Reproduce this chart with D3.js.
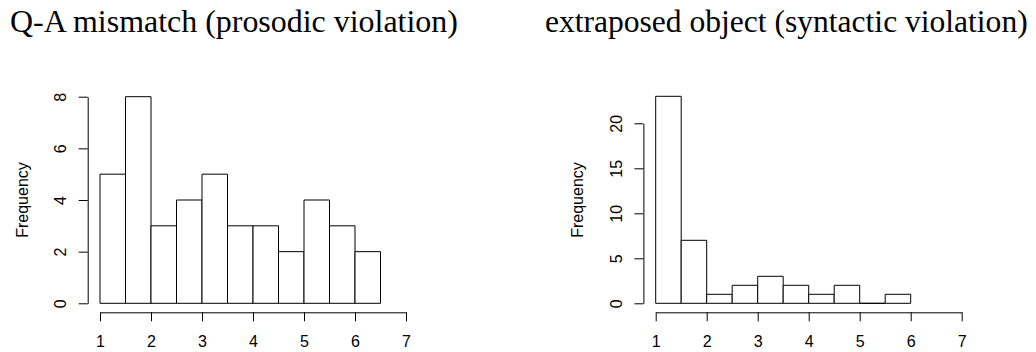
<!DOCTYPE html>
<html><head><meta charset="utf-8">
<script src="https://cdn.jsdelivr.net/npm/d3@7"></script>
<style>
body{margin:0;background:#fff;}
svg{display:block;}
</style></head>
<body>
<svg id="chart" width="1036" height="352"></svg>
<script>
// Data
const titles = ["Q-A mismatch (prosodic violation)", "extraposed object (syntactic violation)"];
const breaksLeft = [1, 1.5, 2, 2.5, 3, 3.5, 4, 4.5, 5, 5.5, 6, 6.5];
const countsLeft = [5, 8, 3, 4, 5, 3, 3, 2, 4, 3, 2];
const breaksRight = [1, 1.5, 2, 2.5, 3, 3.5, 4, 4.5, 5, 5.5, 6];
const countsRight = [23, 7, 1, 2, 3, 2, 1, 2, 0, 1];
const xTicks = [1, 2, 3, 4, 5, 6, 7];
const yTicksLeft = [0, 2, 4, 6, 8];
const yTicksRight = [0, 5, 10, 15, 20];
const yLabel = "Frequency";

const svg = d3.select("#chart");
const FS = 16;
const SANS = "Liberation Sans, Arial, Helvetica, sans-serif";

const panels = [
  {title: titles[0], breaks: breaksLeft, counts: countsLeft, yTicks: yTicksLeft, yMax: 8,
   x0: 100, x1: 406, yTop: 96.7, titleX: 10, titleW: 448},
  {title: titles[1], breaks: breaksRight, counts: countsRight, yTicks: yTicksRight, yMax: 20,
   x0: 655.7, x1: 961.7, yTop: 123.3, titleX: 545, titleW: 483}
];

const yBase = 303.3;
const xAxisY = 312.3;

panels.forEach(p => {
  const g = svg.append("g");
  const x = d3.scaleLinear().domain([1, 7]).range([p.x0, p.x1]);
  const y = d3.scaleLinear().domain([0, p.yMax]).range([yBase, p.yTop]);

  // bars (paths so that zero-count bins still draw a line on the baseline)
  const bins = p.counts.map((c, i) => ({a: p.breaks[i], b: p.breaks[i + 1], c}));
  g.selectAll("path.bar").data(bins).join("path")
    .attr("class", "bar")
    .attr("d", d => `M${x(d.a)},${y(0)}V${y(d.c)}H${x(d.b)}V${y(0)}Z`)
    .attr("fill", "#fff")
    .attr("stroke", "#000")
    .attr("stroke-width", 1);

  // x axis
  const xa = g.append("g").attr("transform", `translate(0,${xAxisY})`)
    .call(d3.axisBottom(x).tickValues(xTicks).tickSize(9).tickSizeOuter(0).tickPadding(14).tickFormat(d3.format("d")));
  xa.attr("font-size", FS).attr("font-family", SANS);
  xa.selectAll("path,line").attr("stroke", "#000").attr("stroke-width", 1);
  xa.selectAll("text").attr("fill", "#000");

  // y axis
  const axisX = p.x0 - 12.3;
  const ya = g.append("g").attr("transform", `translate(${axisX},0)`)
    .call(d3.axisLeft(y).tickValues(p.yTicks).tickSize(9).tickSizeOuter(0).tickFormat(d3.format("d")));
  ya.attr("font-size", FS).attr("font-family", SANS);
  ya.selectAll("path,line").attr("stroke", "#000").attr("stroke-width", 1);
  ya.selectAll("text")
    .attr("fill", "#000")
    .attr("x", null).attr("dy", null)
    .attr("text-anchor", "middle")
    .attr("transform", "translate(-21.5,0) rotate(-90)");

  // y label
  g.append("text")
    .attr("transform", `translate(${axisX - 60},${(yBase + 96.7) / 2}) rotate(-90)`)
    .attr("text-anchor", "middle")
    .attr("font-family", SANS)
    .attr("font-size", FS)
    .text(yLabel);

  // title
  const t = g.append("text")
    .attr("x", p.titleX).attr("y", 32)
    .attr("font-family", "Liberation Serif, Times New Roman, serif")
    .attr("font-size", 28)
    .text(p.title);
  const w = t.node().getComputedTextLength();
  t.attr("font-size", 28 * p.titleW / w);
});
</script>
</body></html>
